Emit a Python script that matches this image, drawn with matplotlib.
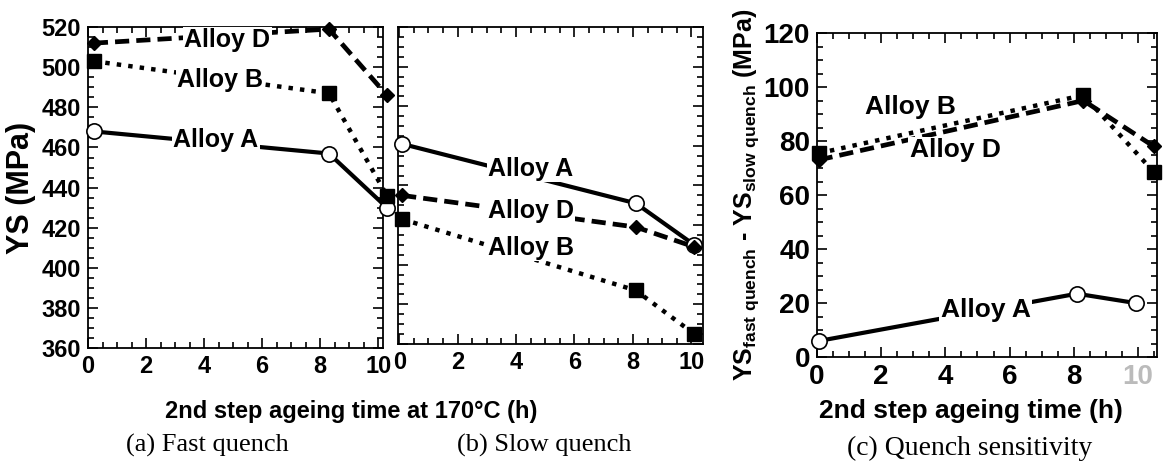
import numpy as np
import matplotlib

matplotlib.use("Agg")
import matplotlib.pyplot as plt
from matplotlib.ticker import MultipleLocator

# ageing times (h) as placed in each panel
time_fast = [0.2, 8.3, 10.3]
time_slow = [0.1, 8.1, 10.1]
time_diff_a = [0.05, 8.1, 9.95]
time_diff_bd = [0.05, 8.3, 10.5]

# yield strength (MPa), fast quench
fast_a = [468, 457, 430]
fast_b = [503, 487, 436]
fast_d = [512, 519, 486]

# yield strength (MPa), slow quench
slow_a = [461, 431, 410]
slow_b = [423, 387, 365]
slow_d = [435, 419, 409]

# quench sensitivity YS_fast - YS_slow (MPa)
diff_a = [6, 23.5, 20]
diff_b = [75.5, 97, 68.5]
diff_d = [73, 95, 78]

SANS = ["Liberation Sans", "DejaVu Sans"]
SERIF = ["Liberation Serif", "DejaVu Serif"]

plt.rcParams["mathtext.fontset"] = "custom"
plt.rcParams["mathtext.rm"] = "Liberation Sans:bold"
plt.rcParams["mathtext.bf"] = "Liberation Sans:bold"

styles = {
    "A": dict(color="black", ls="-", lw=3.0, marker="o", ms=11, mfc="white", mec="black", mew=1.2),
    "B": dict(color="black", ls=(0, (1, 1.6)), lw=3.2, marker="s", ms=10, mfc="black", mec="black"),
    "D": dict(color="black", ls=(0, (3, 1.5)), lw=3.4, marker="D", ms=7.5, mfc="black", mec="black"),
}

fig = plt.figure(figsize=(11.63, 4.75), dpi=100)
ax_a = fig.add_axes([0.0757, 0.267, 0.2533, 0.676])
ax_b = fig.add_axes([0.342, 0.276, 0.2625, 0.667])
ax_c = fig.add_axes([0.7025, 0.248, 0.2925, 0.6825])


def style_axis(ax, ymajor, yminor, labelsize):
    ax.xaxis.set_major_locator(MultipleLocator(2))
    ax.xaxis.set_minor_locator(MultipleLocator(0.5))
    ax.yaxis.set_major_locator(MultipleLocator(ymajor))
    ax.yaxis.set_minor_locator(MultipleLocator(yminor))
    ax.tick_params(which="both", direction="in", top=True, right=True, width=1.2)
    ax.tick_params(which="major", length=7)
    ax.tick_params(which="minor", length=4)
    ax.tick_params(labelsize=labelsize, pad=5)
    for label in ax.get_xticklabels() + ax.get_yticklabels():
        label.set_fontfamily(SANS)
        label.set_fontweight("bold")
    for spine in ax.spines.values():
        spine.set_linewidth(1.3)


def alloy_label(ax, x, y, text, size=18):
    ax.text(x, y, text, ha="center", va="center", fontsize=size, fontweight="bold",
            family=SANS, zorder=5,
            bbox=dict(boxstyle="square,pad=0.05", fc="white", ec="none"))


# (a) fast quench
ax_a.plot(time_fast, fast_a, **styles["A"], zorder=3, clip_on=False)
ax_a.plot(time_fast, fast_b, **styles["B"], zorder=3, clip_on=False)
ax_a.plot(time_fast, fast_d, **styles["D"], zorder=3, clip_on=False)
ax_a.set_xlim(0, 10.15)
ax_a.set_ylim(360, 520)
style_axis(ax_a, 20, 5, 17)
ax_a.set_ylabel("YS (MPa)", fontsize=22, fontweight="bold", family=SANS, labelpad=4)
alloy_label(ax_a, 4.8, 513.5, "Alloy D")
alloy_label(ax_a, 4.55, 493.5, "Alloy B")
alloy_label(ax_a, 4.4, 463.5, "Alloy A")

# (b) slow quench
ax_b.plot(time_slow, slow_a, **styles["A"], zorder=3, clip_on=False)
ax_b.plot(time_slow, slow_d, **styles["D"], zorder=3, clip_on=False)
ax_b.plot(time_slow, slow_b, **styles["B"], zorder=3, clip_on=False)
ax_b.set_xlim(-0.05, 10.4)
ax_b.set_ylim(360, 520)
style_axis(ax_b, 20, 5, 17)
ax_b.tick_params(labelleft=False)
alloy_label(ax_b, 4.5, 448.5, "Alloy A")
alloy_label(ax_b, 4.5, 427, "Alloy D")
alloy_label(ax_b, 4.5, 408.5, "Alloy B")

# (c) quench sensitivity
ax_c.plot(time_diff_a, diff_a, **styles["A"], zorder=3, clip_on=False)
ax_c.plot(time_diff_bd, diff_d, **styles["D"], zorder=3, clip_on=False)
ax_c.plot(time_diff_bd, diff_b, **styles["B"], zorder=3, clip_on=False)
ax_c.set_xlim(0, 10.6)
ax_c.set_ylim(0, 120)
style_axis(ax_c, 20, 5, 20)
ax_c.set_ylabel(r"YS$_{\mathrm{fast\ quench}}$ - YS$_{\mathrm{slow\ quench}}$ (MPa)",
                fontsize=18, fontweight="bold", family=SANS, labelpad=2)
alloy_label(ax_c, 2.9, 92.6, "Alloy B", 19)
alloy_label(ax_c, 4.3, 76.7, "Alloy D", 19)
alloy_label(ax_c, 5.25, 17.4, "Alloy A", 19)
for tick in ax_c.get_xticklabels():
    if tick.get_text() == "10":
        tick.set_color("#bbbbbb")

# axis titles and captions
fig.text(0.302, 0.133, "2nd step ageing time at 170°C (h)", ha="center", va="center",
         fontsize=17, fontweight="bold", family=SANS)
fig.text(0.835, 0.135, "2nd step ageing time (h)", ha="center", va="center",
         fontsize=19, fontweight="bold", family=SANS)
fig.text(0.178, 0.063, "(a) Fast quench", ha="center", va="center", fontsize=19, family=SERIF)
fig.text(0.468, 0.063, "(b) Slow quench", ha="center", va="center", fontsize=19, family=SERIF)
fig.text(0.834, 0.057, "(c) Quench sensitivity", ha="center", va="center", fontsize=20, family=SERIF)

fig.savefig("out.png", dpi=100, facecolor="white")
